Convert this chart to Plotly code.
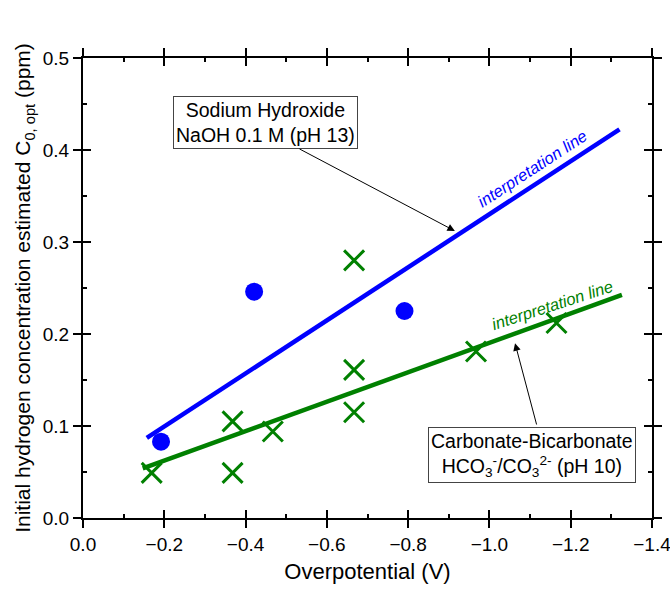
import plotly.graph_objects as go

# Sodium hydroxide (blue circles)
naoh_x = [-0.192, -0.421, -0.791]
naoh_y = [0.083, 0.246, 0.225]
naoh_fit_x = [-0.157, -1.320]
naoh_fit_y = [0.087, 0.4225]

# Carbonate-bicarbonate (green crosses)
carb_x = [-0.169, -0.368, -0.368, -0.467, -0.667, -0.667, -0.667, -0.967, -1.165]
carb_y = [0.049, 0.049, 0.105, 0.094, 0.115, 0.161, 0.280, 0.181, 0.212]
carb_fit_x = [-0.147, -1.326]
carb_fit_y = [0.054, 0.2424]

x_ticks = [0.0, -0.2, -0.4, -0.6, -0.8, -1.0, -1.2, -1.4]
y_ticks = [0.0, 0.1, 0.2, 0.3, 0.4, 0.5]

BLUE = "#0000ff"
GREEN = "#008000"
FONT = "Liberation Sans, Arial, sans-serif"

fig = go.Figure()
fig.add_trace(go.Scatter(x=naoh_fit_x, y=naoh_fit_y, mode="lines",
                         line=dict(color=BLUE, width=4.5), showlegend=False))
fig.add_trace(go.Scatter(x=carb_fit_x, y=carb_fit_y, mode="lines",
                         line=dict(color=GREEN, width=4.5), showlegend=False))
fig.add_trace(go.Scatter(x=naoh_x, y=naoh_y, mode="markers",
                         marker=dict(symbol="circle", size=18, color=BLUE), showlegend=False))
fig.add_trace(go.Scatter(x=carb_x, y=carb_y, mode="markers",
                         marker=dict(symbol="x-thin-open", size=20, color=GREEN,
                                     line=dict(color=GREEN, width=3)), showlegend=False))
# invisible trace on overlay axes
fig.add_trace(go.Scatter(x=[None], y=[None], xaxis="x2", yaxis="y2", showlegend=False))

tickfont = dict(family=FONT, size=19, color="black")
fig.update_layout(
    width=670, height=589,
    margin=dict(l=83, r=18, t=58, b=71),
    paper_bgcolor="white", plot_bgcolor="white",
    font=dict(family=FONT, color="black"),
    xaxis=dict(range=[0, -1.4], tickvals=x_ticks, tickformat=".1f", automargin=False,
               ticklabeloverflow="allow",
               ticks="outside", ticklen=8, tickwidth=2, tickcolor="black",
               showline=True, linecolor="black", linewidth=2, mirror="ticks",
               showgrid=False, zeroline=False, tickfont=tickfont,
               title=dict(text="Overpotential (V)", font=dict(family=FONT, size=22), standoff=10)),
    yaxis=dict(range=[0, 0.5], tickvals=y_ticks, tickformat=".1f", automargin=False,
               ticklabeloverflow="allow",
               ticks="outside", ticklen=8, tickwidth=2, tickcolor="black",
               showline=True, linecolor="black", linewidth=2, mirror="ticks",
               showgrid=False, zeroline=False, tickfont=tickfont,
               title=dict(text="Initial hydrogen concentration estimated C<sub>0, opt</sub> (ppm)",
                          font=dict(family=FONT, size=21), standoff=6)),
    xaxis2=dict(overlaying="x", matches="x", side="bottom", tickvals=x_ticks,
                ticks="inside", ticklen=8, tickwidth=2, tickcolor="black", automargin=False,
                minor=dict(ticks="inside", ticklen=4, tickwidth=2, tickcolor="black", dtick=0.1),
                showticklabels=False, showgrid=False, zeroline=False, mirror="ticks",
                showline=False),
    yaxis2=dict(overlaying="y", matches="y", side="left", tickvals=y_ticks,
                ticks="inside", ticklen=8, tickwidth=2, tickcolor="black", automargin=False,
                minor=dict(ticks="inside", ticklen=4, tickwidth=2, tickcolor="black", dtick=0.05),
                showticklabels=False, showgrid=False, zeroline=False, mirror="ticks",
                showline=False),
)

ann_font = dict(family=FONT, size=19.5, color="black")
fig.add_annotation(x=-0.450, y=0.430, xref="x", yref="y",
                   text="Sodium Hydroxide<br>NaOH 0.1 M (pH 13)", showarrow=False,
                   font=ann_font, bordercolor="#444", borderwidth=1, borderpad=2,
                   bgcolor="white")
fig.add_annotation(x=-0.915, y=0.312, ax=-0.529, ay=0.402, xref="x", yref="y",
                   axref="x", ayref="y", text="", showarrow=True,
                   arrowhead=2, arrowsize=1.5, arrowwidth=1, arrowcolor="black")
fig.add_annotation(x=-1.105, y=0.0685, xref="x", yref="y",
                   text="Carbonate-Bicarbonate<br>HCO<sub>3</sub><sup>-</sup>/CO<sub>3</sub><sup>2-</sup> (pH 10)",
                   showarrow=False, font=ann_font, bordercolor="#444", borderwidth=1,
                   borderpad=2, bgcolor="white")
fig.add_annotation(x=-1.063, y=0.190, ax=-1.117, ay=0.100, xref="x", yref="y",
                   axref="x", ayref="y", text="", showarrow=True,
                   arrowhead=2, arrowsize=1.5, arrowwidth=1, arrowcolor="black")
fig.add_annotation(x=-1.107, y=0.380, xref="x", yref="y", text="<i>interpretation line</i>",
                   showarrow=False, textangle=-33,
                   font=dict(family=FONT, size=16.5, color=BLUE))
fig.add_annotation(x=-1.154, y=0.2315, xref="x", yref="y", text="<i>interpretation line</i>",
                   showarrow=False, textangle=-18,
                   font=dict(family=FONT, size=16.5, color=GREEN))

fig.write_html("out.html")
